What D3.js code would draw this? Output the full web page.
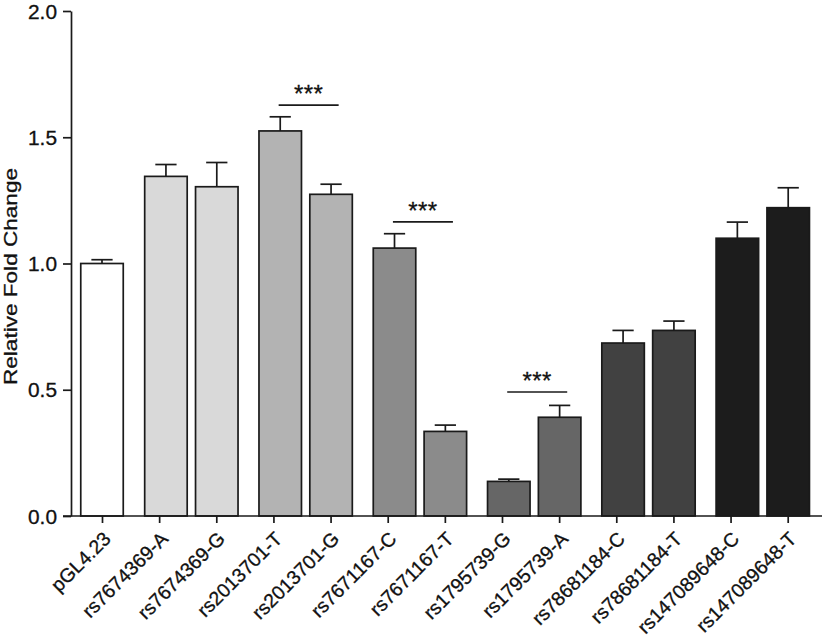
<!DOCTYPE html>
<html>
<head>
<meta charset="utf-8">
<script src="https://cdn.jsdelivr.net/npm/d3@7"></script>
<style>
  html, body { margin: 0; padding: 0; background: #fff; }
  svg { display: block; font-family: "Liberation Sans", Arial, Helvetica, sans-serif; }
  svg text { stroke: #111; stroke-width: 0.3px; }
</style>
</head>
<body>
<svg id="chart" width="827" height="640"></svg>
<script>
// ---- data ----
const categories = ["pGL4.23", "rs7674369-A", "rs7674369-G", "rs2013701-T", "rs2013701-G",
  "rs7671167-C", "rs7671167-T", "rs1795739-G", "rs1795739-A", "rs78681184-C",
  "rs78681184-T", "rs147089648-C", "rs147089648-T"];
const values = [1.000, 1.345, 1.304, 1.525, 1.274, 1.061, 0.335, 0.137, 0.391, 0.685, 0.735, 1.100, 1.221];
const errors = [0.015, 0.047, 0.096, 0.056, 0.040, 0.057, 0.025, 0.009, 0.047, 0.050, 0.037, 0.064, 0.079];
const groups = [0, 1, 1, 2, 2, 3, 3, 4, 4, 5, 5, 6, 6];
const groupColors = ["#ffffff", "#d9d9d9", "#b3b3b3", "#8b8b8b", "#666666", "#414141", "#1c1c1c"];
const yTicks = [0.0, 0.5, 1.0, 1.5, 2.0];
const significance = [
  { a: "rs2013701-T", b: "rs2013701-G", level: 1.627, label: "***" },
  { a: "rs7671167-C", b: "rs7671167-T", level: 1.165, label: "***" },
  { a: "rs1795739-G", b: "rs1795739-A", level: 0.491, label: "***" }
];
const yTitle = "Relative Fold Change";

// ---- layout ----
const svg = d3.select("#chart");
const axisX = 71, baseY = 516, topY = 11;
const y = d3.scaleLinear().domain([0, 2]).range([baseY, topY]);
const x = d3.scalePoint().domain(categories).range([102, 787.7]);
const barW = 42.5;
const stroke = "#1a1a1a";
const textColor = "#111";

// bar centre: first bar of a pair shifted right toward its partner
function barCenter(i) {
  const g = groups[i];
  const members = groups.map((v, k) => v === g ? k : -1).filter(k => k >= 0);
  if (members.length === 2) {
    return x(categories[i]) + (members[0] === i ? 6.8 : 0.5);
  }
  return x(categories[i]);
}

const data = categories.map((c, i) => ({ c, v: values[i], e: errors[i], g: groups[i], cx: barCenter(i) }));

// bars
svg.append("g").selectAll("rect").data(data).join("rect")
  .attr("x", d => d.cx - barW / 2)
  .attr("y", d => y(d.v))
  .attr("width", barW)
  .attr("height", d => y(0) - y(d.v))
  .attr("fill", d => groupColors[d.g])
  .attr("stroke", stroke)
  .attr("stroke-width", 1.7);

// error bars (upper only)
const eb = svg.append("g").attr("stroke", stroke).attr("stroke-width", 1.7).attr("fill", "none");
eb.selectAll("line.v").data(data).join("line").attr("class", "v")
  .attr("x1", d => d.cx).attr("x2", d => d.cx)
  .attr("y1", d => y(d.v)).attr("y2", d => y(d.v + d.e));
eb.selectAll("line.cap").data(data).join("line").attr("class", "cap")
  .attr("x1", d => d.cx - barW / 4).attr("x2", d => d.cx + barW / 4)
  .attr("y1", d => y(d.v + d.e)).attr("y2", d => y(d.v + d.e));

// y axis
const yAxis = svg.append("g").attr("transform", `translate(${axisX},0)`)
  .call(d3.axisLeft(y).tickValues(yTicks).tickFormat(d3.format(".1f")).tickSize(8).tickSizeOuter(0).tickPadding(6));
yAxis.select(".domain").attr("stroke", stroke).attr("stroke-width", 1.7);
yAxis.selectAll(".tick line").attr("stroke", stroke).attr("stroke-width", 1.7);
yAxis.selectAll(".tick text")
  .attr("font-size", 20).attr("fill", textColor)
  .attr("font-family", "Liberation Sans, Arial, sans-serif")
  .attr("textLength", 29).attr("lengthAdjust", "spacingAndGlyphs")
  .attr("dy", "0.35em");

// x axis
const xAxis = svg.append("g").attr("transform", `translate(0,${baseY})`)
  .call(d3.axisBottom(x).tickSize(7).tickSizeOuter(0));
xAxis.select(".domain").remove();
xAxis.append("line").attr("x1", 63).attr("x2", 822).attr("y1", 0).attr("y2", 0)
  .attr("stroke", stroke).attr("stroke-width", 1.7);
xAxis.selectAll(".tick line").attr("stroke", stroke).attr("stroke-width", 1.7);
xAxis.selectAll(".tick text")
  .attr("font-size", 19.5).attr("fill", textColor)
  .attr("font-family", "Liberation Sans, Arial, sans-serif")
  .attr("text-anchor", "end")
  .attr("dy", 0).attr("y", 0)
  .attr("transform", "translate(9.5,24) rotate(-45)");

// y title
svg.append("text")
  .attr("transform", `translate(16.5,276.5) rotate(-90)`)
  .attr("text-anchor", "middle")
  .attr("font-size", 18.5)
  .attr("textLength", 217).attr("lengthAdjust", "spacingAndGlyphs")
  .attr("fill", textColor)
  .text(yTitle);

// significance brackets
const sig = svg.append("g");
significance.forEach(s => {
  const ia = categories.indexOf(s.a), ib = categories.indexOf(s.b);
  const mid = (barCenter(ia) + barCenter(ib)) / 2 + 3;
  sig.append("line")
    .attr("x1", mid - 30).attr("x2", mid + 30)
    .attr("y1", y(s.level)).attr("y2", y(s.level))
    .attr("stroke", stroke).attr("stroke-width", 1.7);
  sig.append("text")
    .attr("x", mid).attr("y", y(s.level) - 3)
    .attr("text-anchor", "middle")
    .attr("font-size", 24)
    .attr("letter-spacing", 0.5)
    .attr("fill", textColor)
    .text(s.label);
});
</script>
</body>
</html>
